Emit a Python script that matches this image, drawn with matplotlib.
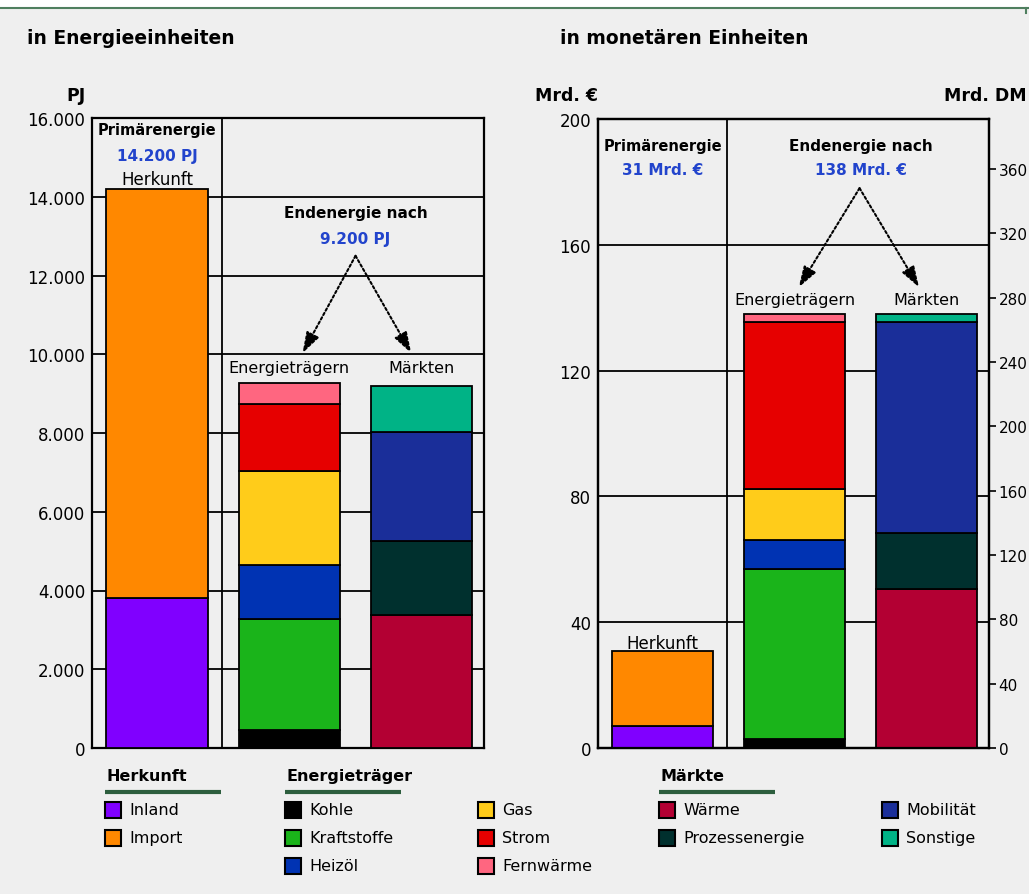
import matplotlib
matplotlib.use("Agg")
import matplotlib.pyplot as plt
from matplotlib import font_manager
from matplotlib.patches import Rectangle
from matplotlib.ticker import FuncFormatter, MultipleLocator

# pick a narrow sans if one is around
_names = {f.name for f in font_manager.fontManager.ttflist}
FAMILY = [n for n in ["Liberation Sans Narrow", "DejaVu Sans Condensed", "DejaVu Sans"] if n in _names] or ["DejaVu Sans"]
plt.rcParams["font.family"] = FAMILY

# Daten
herkunft_labels = ["Inland", "Import"]
traeger_labels = ["Kohle", "Kraftstoffe", "Heizöl", "Gas", "Strom", "Fernwärme"]
maerkte_labels = ["Wärme", "Prozessenergie", "Mobilität", "Sonstige"]

pj_herkunft = [3800, 10400]
pj_traeger = [450, 2830, 1360, 2390, 1700, 550]
pj_maerkte = [3380, 1870, 2770, 1180]

eur_herkunft = [7, 24]
eur_traeger = [3, 54, 9, 16.5, 53, 2.5]
eur_maerkte = [50.5, 18, 67, 2.5]

DM_PER_EUR = 1.95583

herkunft_colors = ["#8000ff", "#ff8800"]
traeger_colors = ["#000000", "#1ab41a", "#0033b3", "#ffcc1a", "#e60000", "#ff6680"]
maerkte_colors = ["#b30033", "#00302e", "#1a2e99", "#00b386"]

BG = "#efefef"
BLUE = "#2244cc"
GREEN = "#2d5e3e"

fig = plt.figure(figsize=(10.29, 8.95), dpi=100, facecolor=BG)


def stacked(ax, x, values, colors):
    bottom = 0
    for v, c in zip(values, colors):
        ax.bar(x, v, bottom=bottom, width=0.765, color=c, edgecolor="black",
               linewidth=1.3, zorder=3)
        bottom += v


def setup(ax, ymax, step):
    ax.set_facecolor(BG)
    ax.set_xlim(-0.49, 2.47)
    ax.set_ylim(0, ymax)
    ax.yaxis.set_major_locator(MultipleLocator(step))
    ax.set_xticks([])
    ax.grid(axis="y", color="black", linewidth=1.3, zorder=1)
    ax.axvline(0.49, color="black", linewidth=1.3, zorder=1)
    ax.tick_params(axis="y", length=0, labelsize=12, pad=5)
    for s in ax.spines.values():
        s.set_linewidth(1.6)


def arrow(ax, start, end):
    ax.annotate("", xy=end, xytext=start,
                arrowprops=dict(arrowstyle="-|>,head_length=0.9,head_width=0.3",
                                linestyle=(0, (1.2, 1.2)), lw=1.5, color="black",
                                mutation_scale=14, shrinkA=0, shrinkB=0),
                zorder=4)


# links: Energieeinheiten
ax1 = fig.add_axes([92 / 1029, 146 / 895, 392 / 1029, 630 / 895])
setup(ax1, 16000, 2000)
ax1.yaxis.set_major_formatter(FuncFormatter(lambda v, p: f"{int(v):,}".replace(",", ".")))
stacked(ax1, 0, pj_herkunft, herkunft_colors)
stacked(ax1, 1, pj_traeger, traeger_colors)
stacked(ax1, 2, pj_maerkte, maerkte_colors)

ax1.text(0, 15700, "Primärenergie", ha="center", va="center", fontsize=10.5, fontweight="bold")
ax1.text(0, 15050, "14.200 PJ", ha="center", va="center", fontsize=11, fontweight="bold", color=BLUE)
ax1.text(0, 14450, "Herkunft", ha="center", va="center", fontsize=12)
ax1.text(1.5, 13600, "Endenergie nach", ha="center", va="center", fontsize=11, fontweight="bold")
ax1.text(1.5, 12930, "9.200 PJ", ha="center", va="center", fontsize=11, fontweight="bold", color=BLUE)
ax1.text(1, 9670, "Energieträgern", ha="center", va="center", fontsize=11.5)
ax1.text(2, 9670, "Märkten", ha="center", va="center", fontsize=11.5)
for xe in (1.1, 1.92):
    arrow(ax1, (1.5, 12500), (xe, 10030))

# rechts: monetäre Einheiten
ax2 = fig.add_axes([598 / 1029, 146 / 895, 391 / 1029, 629 / 895])
setup(ax2, 200, 40)
stacked(ax2, 0, eur_herkunft, herkunft_colors)
stacked(ax2, 1, eur_traeger, traeger_colors)
stacked(ax2, 2, eur_maerkte, maerkte_colors)

ax2.text(0, 191.7, "Primärenergie", ha="center", va="center", fontsize=10.5, fontweight="bold")
ax2.text(0, 183.8, "31 Mrd. €", ha="center", va="center", fontsize=11, fontweight="bold", color=BLUE)
ax2.text(0, 33.4, "Herkunft", ha="center", va="center", fontsize=12)
ax2.text(1.5, 191.7, "Endenergie nach", ha="center", va="center", fontsize=11, fontweight="bold")
ax2.text(1.5, 183.8, "138 Mrd. €", ha="center", va="center", fontsize=11, fontweight="bold", color=BLUE)
ax2.text(1, 142.7, "Energieträgern", ha="center", va="center", fontsize=11.5)
ax2.text(2, 142.7, "Märkten", ha="center", va="center", fontsize=11.5)
for xe in (1.03, 1.94):
    arrow(ax2, (1.49, 178), (xe, 146.5))

# DM-Achse
ax3 = ax2.twinx()
ax3.set_ylim(0, 200 * DM_PER_EUR)
ax3.set_yticks(range(0, 361, 40))
ax3.tick_params(axis="y", direction="out", length=5, width=1.2, labelsize=11, pad=2)
for s in ax3.spines.values():
    s.set_linewidth(1.6)

# Überschriften und Legende
ov = fig.add_axes([0, 0, 1, 1], zorder=5)
ov.set_xlim(0, 1029)
ov.set_ylim(895, 0)
ov.axis("off")
ov.patch.set_visible(False)

ov.add_patch(Rectangle((0, 0), 1029, 8, facecolor="white", edgecolor="none"))
ov.plot([0, 1029], [8.5, 8.5], color="#4f7f5f", lw=1.5)
ov.plot([1026, 1026], [8.5, 14], color="#4f7f5f", lw=1.5)

ov.text(27, 38, "in Energieeinheiten", fontsize=13.5, fontweight="bold", va="center")
ov.text(560, 38, "in monetären Einheiten", fontsize=13.5, fontweight="bold", va="center")
ov.text(86, 96, "PJ", fontsize=12.5, fontweight="bold", ha="right", va="center")
ov.text(598, 96, "Mrd. €", fontsize=12.5, fontweight="bold", ha="right", va="center")
ov.text(1027, 96, "Mrd. DM", fontsize=12.5, fontweight="bold", ha="right", va="center")


def legend_group(x, title, labels, colors, col_x=None, rows=3):
    ov.text(x + 2, 777, title, fontsize=11.5, fontweight="bold", va="center")
    ov.plot([x, x + 116], [793, 793], color=GREEN, lw=3, solid_capstyle="butt")
    for i, (lab, col) in enumerate(zip(labels, colors)):
        cx = x if col_x is None or i < rows else col_x
        cy = 811 + 28 * (i % rows if col_x is not None else i)
        ov.add_patch(Rectangle((cx, cy - 8), 16, 16, facecolor=col, edgecolor="black", lw=1.5))
        ov.text(cx + 24, cy, lab, fontsize=11.5, va="center")


legend_group(105, "Herkunft", herkunft_labels, herkunft_colors)
legend_group(285, "Energieträger", traeger_labels, traeger_colors, col_x=478, rows=3)
legend_group(659, "Märkte", maerkte_labels, maerkte_colors, col_x=882, rows=2)

fig.savefig("out.png", dpi=100, facecolor=BG)
